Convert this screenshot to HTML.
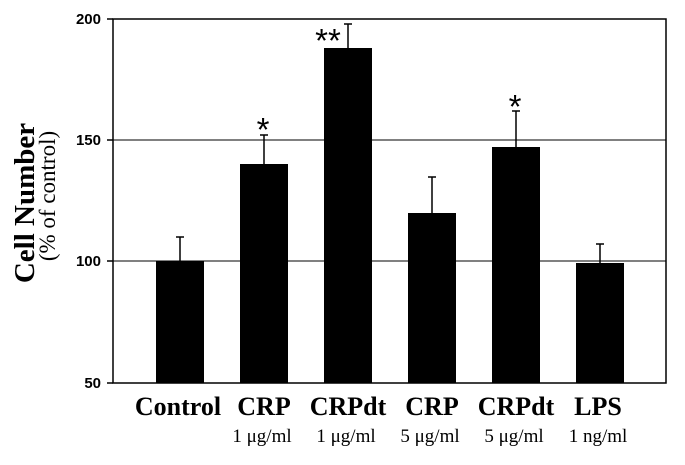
<!DOCTYPE html>
<html><head><style>body{margin:0;background:#fff}</style></head><body>
<svg width="685" height="460" xmlns="http://www.w3.org/2000/svg">
<rect width="685" height="460" fill="#fff"/>
<g stroke="#000" stroke-width="1">
<line x1="113" y1="140" x2="666" y2="140"/>
<line x1="113" y1="261" x2="666" y2="261"/>
</g>
<rect x="113" y="19" width="553" height="364" fill="none" stroke="#000" stroke-width="1.5"/>
<g stroke="#000" stroke-width="1.5">
<line x1="107" y1="19" x2="113" y2="19"/><line x1="107" y1="140" x2="113" y2="140"/>
<line x1="107" y1="261" x2="113" y2="261"/><line x1="107" y1="383" x2="113" y2="383"/>
</g>
<g font-family="Liberation Sans, sans-serif" font-weight="bold" font-size="15" text-anchor="end">
<text x="101" y="24">200</text><text x="101" y="145">150</text>
<text x="101" y="266">100</text><text x="101" y="388">50</text>
</g>
<g fill="#000">
<rect x="156" y="261" width="48" height="122"/>
<rect x="240" y="164" width="48" height="219"/>
<rect x="324" y="48" width="48" height="335"/>
<rect x="408" y="213" width="48" height="170"/>
<rect x="492" y="147" width="48" height="236"/>
<rect x="576" y="263" width="48" height="120"/>
</g>
<g stroke="#000" stroke-width="1.5">
<line x1="180" y1="261" x2="180" y2="237"/><line x1="176" y1="237" x2="184" y2="237"/>
<line x1="264" y1="164" x2="264" y2="135"/><line x1="260" y1="135" x2="268" y2="135"/>
<line x1="348" y1="48" x2="348" y2="24"/><line x1="344" y1="24" x2="352" y2="24"/>
<line x1="432" y1="213" x2="432" y2="177"/><line x1="428" y1="177" x2="436" y2="177"/>
<line x1="516" y1="147" x2="516" y2="111"/><line x1="512" y1="111" x2="520" y2="111"/>
<line x1="600" y1="263" x2="600" y2="244"/><line x1="596" y1="244" x2="604" y2="244"/>
</g>
<g font-family="Liberation Sans, sans-serif" font-size="33" text-anchor="middle">
<text x="263" y="141">*</text><text x="328" y="52">**</text><text x="515" y="118">*</text>
</g>
<g font-family="Liberation Serif, serif" font-weight="bold" font-size="26" text-anchor="middle">
<text x="178" y="415">Control</text><text x="264" y="415">CRP</text>
<text x="348" y="415">CRPdt</text><text x="432" y="415">CRP</text>
<text x="516" y="415">CRPdt</text><text x="598" y="415">LPS</text>
</g>
<g font-family="Liberation Serif, serif" font-size="19" text-anchor="middle">
<text x="262" y="442">1 μg/ml</text><text x="346" y="442">1 μg/ml</text>
<text x="430" y="442">5 μg/ml</text><text x="514" y="442">5 μg/ml</text>
<text x="598" y="442">1 ng/ml</text>
</g>
<text transform="translate(34,203) rotate(-90)" font-family="Liberation Serif, serif" font-weight="bold" font-size="29" text-anchor="middle">Cell Number</text>
<text transform="translate(55,196) rotate(-90)" font-family="Liberation Serif, serif" font-size="23" text-anchor="middle">(% of control)</text>
</svg>
</body></html>
